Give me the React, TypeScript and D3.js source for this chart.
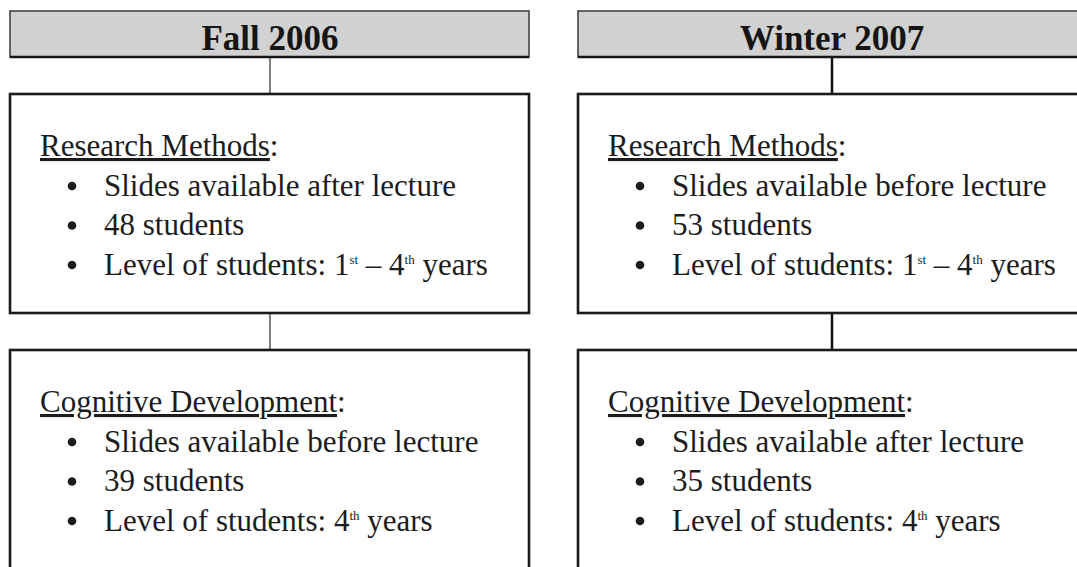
import { scaleBand, scalePoint } from "d3";

// data
const terms = ["Fall 2006", "Winter 2007"];
const courses = ["Research Methods", "Cognitive Development"];
// slide timing per term, per course
const slideTiming = [
  ["after", "before"],
  ["before", "after"]
];
const studentCounts = [
  [48, 39],
  [53, 35]
];
// level of students per course: list of [number, ordinal suffix]
const courseLevels: [string, string][][] = [
  [
    ["1", "st"],
    ["4", "th"]
  ],
  [["4", "th"]]
];

const W = 1077;
const H = 567;
const FONT = "'Liberation Serif', 'Times New Roman', serif";
const INK = "#1c1c1c";

const headerTop = 11;
const headerH = 46;
const boxTops = [94, 350];
const boxBottoms = [313, 640];
const lineGap = 39.5;
const connectorWidth = [1.5, 2.5];

export default function App() {
  const colX = scaleBand<string>().domain(terms).range([10, 1097]).paddingInner(49 / 568);
  const colMid = scalePoint<string>().domain(terms).range([270, 832]);
  const bw = colX.bandwidth();

  const renderLevel = (levels: [string, string][]) => {
    const parts: JSX.Element[] = [];
    levels.forEach(([n, suf], i) => {
      parts.push(
        <tspan key={`n${i}`} dy={i === 0 ? 0 : 11}>
          {i === 0 ? n : ` – ${n}`}
        </tspan>
      );
      parts.push(
        <tspan key={`s${i}`} fontSize={13} dy={-11}>
          {suf}
        </tspan>
      );
    });
    parts.push(
      <tspan key="y" dy={11}>
        {" years"}
      </tspan>
    );
    return parts;
  };

  return (
    <div style={{ position: "absolute", left: 0, top: 0, background: "#fff" }}>
      <svg width={W} height={H} viewBox={`0 0 ${W} ${H}`} style={{ display: "block" }}>
        <rect width={W} height={H} fill="#fff" />
        {terms.map((term, ti) => {
          const x0 = colX(term) ?? 0;
          const cx = colMid(term) ?? 0;
          return (
            <g key={term}>
              {/* connectors */}
              <line
                x1={cx}
                x2={cx}
                y1={headerTop + headerH}
                y2={boxTops[0]}
                stroke={ti === 0 ? "#555" : "#111"}
                strokeWidth={connectorWidth[ti]}
              />
              <line
                x1={cx}
                x2={cx}
                y1={boxBottoms[0]}
                y2={boxTops[1]}
                stroke={ti === 0 ? "#555" : "#111"}
                strokeWidth={connectorWidth[ti]}
              />
              {/* header */}
              <rect x={x0} y={headerTop} width={bw} height={headerH} fill="#d1d1d1" stroke="#444" strokeWidth={1.6} />
              <line x1={x0} x2={x0 + bw} y1={headerTop + headerH} y2={headerTop + headerH} stroke="#151515" strokeWidth={2.6} />
              <text
                x={cx}
                y={headerTop + 39}
                textAnchor="middle"
                fontFamily={FONT}
                fontWeight="bold"
                fontSize={35}
                fill="#151515"
              >
                {term}
              </text>
              {courses.map((course, ci) => {
                const top = boxTops[ci];
                const base = top + 62;
                const items = [
                  `Slides available ${slideTiming[ti][ci]} lecture`,
                  `${studentCounts[ti][ci]} students`
                ];
                return (
                  <g key={course}>
                    <rect
                      x={x0}
                      y={top}
                      width={bw}
                      height={boxBottoms[ci] - top}
                      fill="#fff"
                      stroke="#1a1a1a"
                      strokeWidth={2.6}
                    />
                    <text x={x0 + 30} y={base} fontFamily={FONT} fontSize={31} fill={INK}>
                      <tspan textDecoration="underline">{course}</tspan>
                      <tspan>:</tspan>
                    </text>
                    {[0, 1, 2].map((k) => {
                      const y = base + lineGap * (k + 1);
                      return (
                        <g key={k}>
                          <circle cx={x0 + 62} cy={y - 9.5} r={4.3} fill={INK} />
                          <text x={x0 + 94} y={y} fontFamily={FONT} fontSize={31} fill={INK}>
                            {k < 2 ? (
                              items[k]
                            ) : (
                              <>
                                <tspan>{"Level of students: "}</tspan>
                                {renderLevel(courseLevels[ci])}
                              </>
                            )}
                          </text>
                        </g>
                      );
                    })}
                  </g>
                );
              })}
            </g>
          );
        })}
      </svg>
    </div>
  );
}
